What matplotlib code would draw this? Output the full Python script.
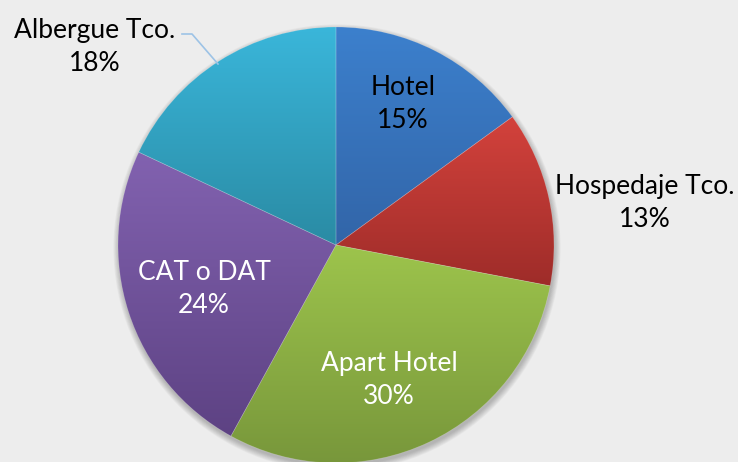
import numpy as np
import matplotlib
matplotlib.use("Agg")
import matplotlib.pyplot as plt
from matplotlib.colors import LinearSegmentedColormap
from matplotlib.patches import Circle

# ---- data (clockwise from 12 o'clock) ----
categories = ["Hotel", "Hospedaje Tco.", "Apart Hotel", "CAT o DAT", "Albergue Tco."]
shares = [15, 13, 30, 24, 18]

# gradient top -> bottom per slice
TOPS = ["#3C80CD", "#D3423C", "#9DC44C", "#8262B0", "#3AB6DA"]
BOTS = ["#3265A8", "#9E2C29", "#78973B", "#5D4283", "#2A8BA4"]
TXT = ["black", "black", "white", "white", "black"]
LABEL_XY = [(403, 358), (645, 259), (389, 82), (204, 173), (95, 415)]
BG = "#EDEDED"

plt.rcParams["font.family"] = ["Lato", "DejaVu Sans"]

fig = plt.figure(figsize=(7.38, 4.62), dpi=100, facecolor=BG)
ax = fig.add_axes([0, 0, 1, 1])
ax.set_facecolor(BG)

CX, CY, R = 336, 217, 218

# soft shadow
for i in range(8):
    ax.add_patch(Circle((CX + 1, CY - 3), R + i * 0.8, color="black",
                        alpha=0.03, lw=0, zorder=0))

wedges, _ = ax.pie(shares, startangle=90, counterclock=False, radius=R,
                   center=(CX, CY), frame=True,
                   wedgeprops=dict(facecolor="none", edgecolor=(1, 1, 1, 0.2),
                                   linewidth=0.5))
for w, top, bot in zip(wedges, TOPS, BOTS):
    w.set_zorder(3)
    ext = w.get_path().get_extents()
    cmap = LinearSegmentedColormap.from_list("g", [bot, top])
    grad = np.linspace(1, 0, 256).reshape(-1, 1)
    im = ax.imshow(grad, cmap=cmap, extent=[ext.x0, ext.x1, ext.y0, ext.y1],
                   aspect="auto", zorder=2, interpolation="bilinear")
    im.set_clip_path(w)

for name, v, (x, y), c in zip(categories, shares, LABEL_XY, TXT):
    ax.text(x, y, f"{name}\n{v}%", ha="center", va="center", color=c,
            fontsize=19, linespacing=1.38, zorder=5)

# leader line for Albergue Tco.
ax.plot([182, 192, 218], [428, 428, 398], color="#9DC3E6", lw=1.2, zorder=4)

ax.set_xlim(0, 738)
ax.set_ylim(0, 462)
ax.set_aspect("equal")
ax.axis("off")

fig.savefig("out.png", dpi=100, facecolor=BG)
